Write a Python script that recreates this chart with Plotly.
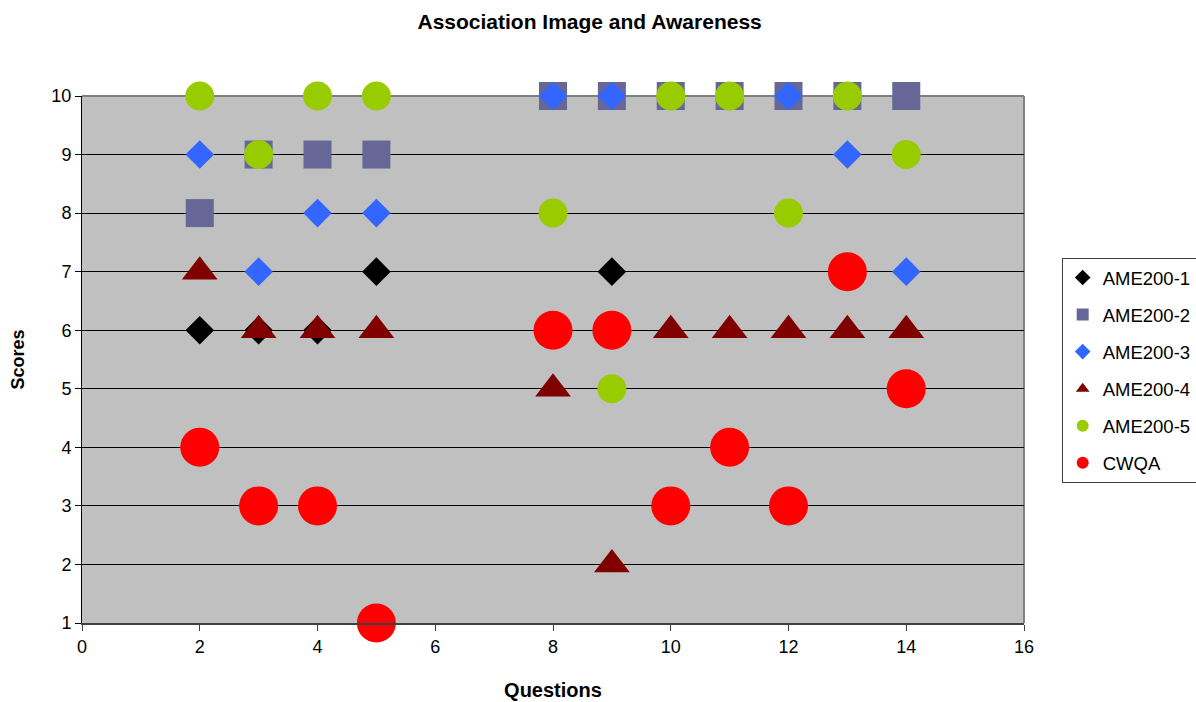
import plotly.graph_objects as go

questions = [2, 3, 4, 5, 8, 9, 10, 11, 12, 13, 14]

ame1_x = [2, 3, 4, 5, 9]
ame1_y = [6, 6, 6, 7, 7]

ame2_x = questions
ame2_y = [8, 9, 9, 9, 10, 10, 10, 10, 10, 10, 10]

ame3_x = [2, 3, 4, 5, 8, 9, 12, 13, 14]
ame3_y = [9, 7, 8, 8, 10, 10, 10, 9, 7]

ame4_x = questions
ame4_y = [7, 6, 6, 6, 5, 2, 6, 6, 6, 6, 6]

ame5_x = questions
ame5_y = [10, 9, 10, 10, 8, 5, 10, 10, 8, 10, 9]

cwqa_x = questions
cwqa_y = [4, 3, 3, 1, 6, 6, 3, 4, 3, 7, 5]

x_ticks = [0, 2, 4, 6, 8, 10, 12, 14, 16]
y_ticks = list(range(1, 11))

series = [
    ("AME200-1", ame1_x, ame1_y, "diamond", 22, "#000000"),
    ("AME200-2", ame2_x, ame2_y, "square", 28, "#666699"),
    ("AME200-3", ame3_x, ame3_y, "diamond", 22, "#3366FF"),
    ("AME200-4", ame4_x, ame4_y, "triangle-up", 31, "#800000"),
    ("AME200-5", ame5_x, ame5_y, "circle", 29, "#99CC00"),
    ("CWQA", cwqa_x, cwqa_y, "circle", 39, "#FF0000"),
]

fig = go.Figure()
for name, xs, ys, sym, size, col in series:
    fig.add_trace(go.Scatter(
        x=xs, y=ys, mode="markers", name=name, legendgroup=name,
        marker=dict(symbol=sym, size=size, color=col, line=dict(width=0)),
        cliponaxis=False,
    ))

font = "Liberation Sans, Arial, sans-serif"
fig.update_layout(
    width=1196, height=702,
    margin=dict(l=82, r=172, t=96, b=79, autoexpand=False),
    paper_bgcolor="white",
    plot_bgcolor="#C0C0C0",
    font=dict(family=font, size=18, color="black"),
    title=dict(text="<b>Association Image and Awareness</b>", x=0.493, xanchor="center",
               yref="container", y=0.98, yanchor="top", font=dict(size=21)),
    showlegend=True,
    legend=dict(x=1.04, xanchor="left", y=0.6926, yanchor="top",
                bordercolor="#404040", borderwidth=1, bgcolor="white",
                font=dict(size=18.5), itemsizing="constant",
                traceorder="grouped", tracegroupgap=10),
    xaxis=dict(range=[0, 16], tickvals=x_ticks, ticktext=[str(v) for v in x_ticks],
               showgrid=False, zeroline=False, showline=True, linecolor="#404040",
               linewidth=2, mirror=False, ticks="outside", ticklen=6, tickcolor="#404040",
               automargin=False,
               title=dict(text="<b>Questions</b>", font=dict(size=20), standoff=27)),
    yaxis=dict(range=[1, 10], tickvals=y_ticks, ticktext=[str(v) for v in y_ticks],
               showgrid=True, gridcolor="#000000", gridwidth=1, zeroline=False,
               showline=True, linecolor="#000000", linewidth=1, ticks="outside",
               ticklen=6, tickcolor="#000000", automargin=False,
               title=dict(text="<b>Scores</b>", font=dict(size=18), standoff=22)),
)
# right and top plot-area border
fig.add_shape(type="line", xref="paper", yref="paper", x0=1, x1=1, y0=0, y1=1,
              line=dict(color="#808080", width=2), layer="below")
fig.add_shape(type="line", xref="paper", yref="paper", x0=0, x1=1, y0=1, y1=1,
              line=dict(color="#808080", width=2), layer="below")

fig.write_html("out.html", config={"displayModeBar": False},
               post_script="document.body.style.margin='0';")
